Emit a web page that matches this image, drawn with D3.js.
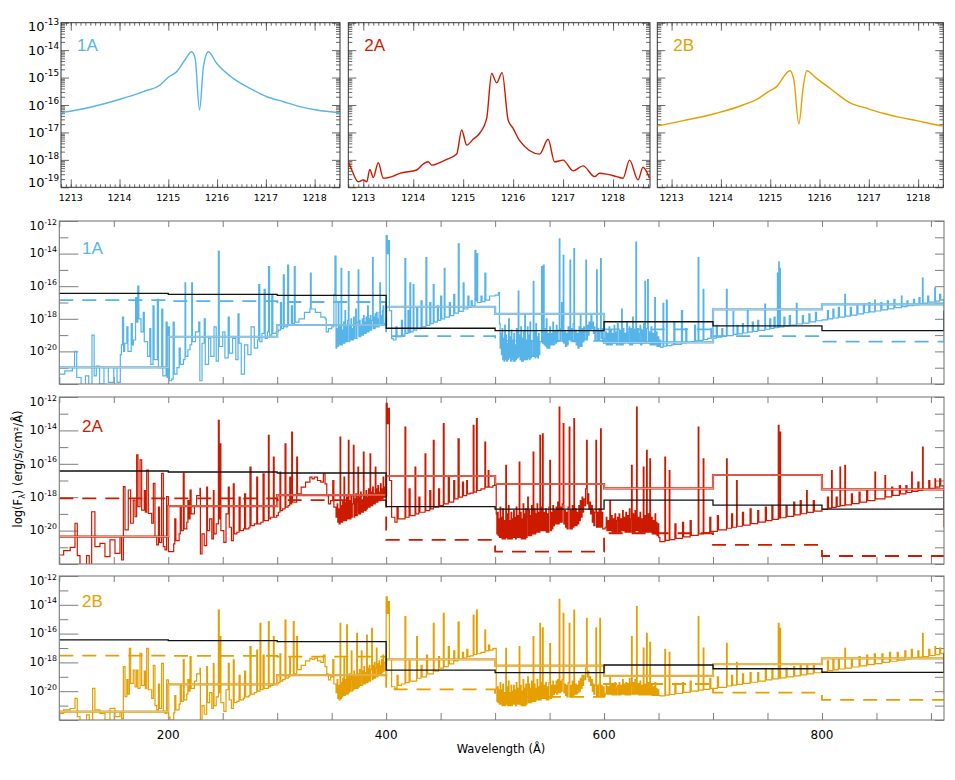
<!DOCTYPE html>
<html>
<head>
<meta charset="utf-8">
<script src="https://cdn.jsdelivr.net/npm/d3@7"></script>
<style>
  body { margin: 0; background: #fff; }
  svg { display: block; }
</style>
</head>
<body>
<svg id="chart" width="955" height="780"></svg>
<script>
// ---------- data (log10 of flux, wavelengths in Angstrom) ----------
const panelNames = ["1A", "2A", "2B"];
const panelColors = ["#56b4e9", "#cc1a00", "#e69f00"];
const lightColors = ["#b4c8d8", "#e89a8e", "#ddc08a"];

// Lyman-alpha zoom panels
const lya1A = [[1212.80,-16.28],[1213.40,-16.08],[1214.01,-15.79],[1214.49,-15.51],[1214.83,-15.27],[1215.00,-14.99],[1215.17,-14.79],[1215.34,-14.36],[1215.48,-14.06],[1215.55,-14.30],[1215.64,-16.18],[1215.72,-14.60],[1215.82,-14.06],[1215.99,-14.48],[1216.33,-15.03],[1216.67,-15.39],[1217.02,-15.70],[1217.36,-15.88],[1217.70,-16.06],[1218.04,-16.18],[1218.52,-16.28]];
const lya2A = [[1212.70,-18.07],[1212.77,-18.37],[1212.90,-18.80],[1213.00,-18.73],[1213.07,-18.80],[1213.13,-18.35],[1213.20,-18.64],[1213.30,-18.10],[1213.40,-18.67],[1213.60,-18.59],[1213.73,-18.49],[1214.07,-18.37],[1214.20,-18.15],[1214.30,-18.07],[1214.37,-18.19],[1214.53,-18.10],[1214.67,-17.98],[1214.87,-17.79],[1214.97,-16.91],[1215.07,-17.46],[1215.20,-17.25],[1215.33,-17.03],[1215.47,-16.49],[1215.57,-14.85],[1215.67,-15.19],[1215.78,-14.82],[1215.90,-16.55],[1216.00,-16.85],[1216.13,-17.30],[1216.53,-17.79],[1216.70,-17.25],[1216.83,-18.07],[1217.00,-18.01],[1217.20,-18.40],[1217.40,-18.22],[1217.63,-18.61],[1217.73,-18.49],[1217.87,-18.52],[1218.07,-18.61],[1218.20,-18.67],[1218.33,-18.01],[1218.50,-18.73],[1218.60,-18.27],[1218.73,-18.67]];
const lya2B = [[1212.71,-16.77],[1213.24,-16.57],[1213.91,-16.30],[1214.45,-16.00],[1214.79,-15.73],[1214.93,-15.55],[1215.13,-15.33],[1215.40,-14.75],[1215.48,-15.09],[1215.58,-16.69],[1215.67,-15.33],[1215.74,-14.75],[1215.94,-15.03],[1216.21,-15.39],[1216.62,-15.92],[1216.96,-16.12],[1217.29,-16.30],[1217.63,-16.45],[1217.97,-16.57],[1218.38,-16.73],[1218.51,-16.77]];
const lyaTicks = [1213, 1214, 1215, 1216, 1217, 1218];
const lyaExps = [-19, -18, -17, -16, -15, -14, -13];

// broad-band panels: bin edges and binned levels
const binEdges = [100, 200, 300, 400, 500, 600, 700, 800, 912];
const black1A = [-16.44, -16.50, -16.56, -18.58, -18.73, -18.18, -18.44, -18.73];
const dash1A  = [-16.85, -16.91, -16.97, -19.06, -19.36, -18.65, -19.06, -19.40];
const light1A = [-20.98, -19.10, -18.38, -17.26, -17.70, -19.45, -17.42, -17.11];
const black2A = [-16.43, -16.49, -16.55, -18.57, -18.71, -18.17, -18.47, -18.71];
const dash2A  = [-18.07, -18.07, -18.17, -20.56, -21.26, -20.16, -20.86, -21.52];
const light2A = [-20.36, -18.53, -17.87, -16.73, -17.21, -17.47, -16.67, -17.53];
const black2B = [-16.44, -16.49, -16.56, -18.53, -18.71, -18.18, -18.44, -18.69];
const dash2B  = [-17.53, -17.55, -17.60, -19.87, -20.40, -19.50, -20.10, -20.60];
const light2B = [-21.42, -19.52, -18.88, -17.79, -18.23, -18.94, -18.13, -17.72];
const blackEnd = [-17.50, -17.57, -17.37];
const wlTicks = [200, 400, 600, 800];
const fluxExps = [-20, -18, -16, -14, -12];

const spec1A = [[100,-21.4],[105,-21.2],[112,-21.0],[114,-20.0],[116,-21.6],[120,-22.3],[124,-21.5],[127,-22.5],[130,-19.0],[132,-21.5],[134,-20.9],[137,-22.0],[141,-21.0],[145,-21.9],[150,-21.0],[153,-21.9],[156,-20.2],[157,-19.6],[158,-17.9],[159,-20.0],[160,-19.5],[162,-18.5],[163,-20.0],[166,-18.3],[167,-19.6],[168,-19.3],[170,-16.7],[171,-18.2],[172,-16.0],[173,-18.0],[175,-18.8],[177,-17.6],[178,-19.4],[181,-20.3],[183,-18.6],[184,-20.8],[186,-17.2],[187,-20.5],[190,-16.8],[191,-21.0],[194,-17.4],[195,-21.5],[198,-18.2],[199,-21.6],[200,-18.5],
[201,-21.8],[203,-21.7],[204.5,-18.2],[205.5,-21.4],[208,-21.0],[210,-19.8],[211,-20.8],[214,-20.5],[215.4,-15.8],[216,-20.3],[218,-19.9],[220,-19.6],[221.5,-15.8],[222.2,-19.4],[225,-18.8],[228,-18.2],[229,-21.8],[231,-19.5],[233,-18.0],[234,-20.8],[237,-19.2],[239,-20.3],[242,-18.5],[244,-20.6],[246,-13.85],[246.8,-19.7],[250,-18.8],[252,-20.4],[255,-17.9],[256,-20.1],[259,-19.2],[262,-20.5],[264,-17.7],[265,-19.5],[267,-21.4],[270,-19.6],[273,-20.2],[276,-18.5],[279,-19.8],[282,-19.3],[283,-15.9],[284,-19.4],[286,-18.9],[288,-16.2],[289,-19.2],[291,-18.8],[292,-14.8],[293,-19.0],[295,-16.5],[296,-18.9],[299,-18.8],
[301,-18.7],[303,-17.0],[304,-18.6],[305.6,-15.3],[306.5,-18.5],[309.6,-14.7],[310.5,-18.4],[313,-17.2],[314,-18.3],[315.7,-14.8],[316.5,-18.2],[320,-18.0],[325,-17.6],[330,-17.4],[330.5,-15.2],[331.2,-17.4],[335,-17.6],[340,-17.9],[344,-18.0],[345,-18.8],[347,-18.6],[350,-18.5],[352,-16.5],[353,-14.15],
[354,-19.8],[354.7,-18.6],[355.4,-19.7],[356,-17.0],[356.6,-19.6],[357.2,-18.4],[357.8,-19.6],[358.6,-14.9],[359.2,-19.6],[359.8,-18.7],[360.4,-19.5],[361,-18.2],[361.6,-19.5],[362.2,-17.5],[362.8,-19.4],[363.4,-18.5],[364,-19.4],[364.6,-18.1],[365.3,-15.1],[365.9,-19.4],[366.5,-18.4],[367.1,-19.3],[367.7,-18.0],[368.3,-19.3],[368.9,-18.6],[369.5,-19.3],[370.1,-17.9],[370.7,-19.2],[371.3,-18.3],[372,-17.4],[372.6,-19.2],[373.2,-18.2],[374.3,-15.0],[374.9,-19.1],[375.5,-18.1],[376.1,-19.1],[376.7,-18.4],[377.3,-19.0],[378,-18.0],[378.6,-19.0],[379.2,-17.8],[379.8,-18.9],[380.4,-18.2],[381,-18.9],[381.6,-17.9],[382.2,-18.8],[383,-17.2],[383.6,-18.8],[384.2,-18.0],[384.8,-18.7],[385.4,-17.8],[386,-18.7],[386.6,-18.1],[387.5,-14.25],[388.1,-18.6],[388.7,-17.9],[389.3,-18.6],[389.9,-17.7],[390.5,-18.5],[391.1,-17.6],[391.7,-18.5],[392.3,-18.0],[392.9,-18.5],[393.5,-17.6],[394.2,-15.8],[394.8,-18.4],[395.4,-17.8],[396,-18.4],[396.6,-17.5],[397.2,-17.2],[397.8,-18.3],[398.5,-18.3],
[400,-12.9],[401,-14.0],[402,-13.2],[403,-17.5],[405,-19.2],[406.5,-19.3],[409,-18.5],[410,-19.1],[412,-19.1],[414,-18.1],[415,-19.0],[417.2,-14.3],[418,-18.9],[420,-17.5],[421,-18.85],[421.8,-15.8],[422.5,-18.8],[424.8,-15.9],[425.5,-18.7],[428,-17.3],[429,-18.6],[432,-16.9],[433,-18.5],[436.5,-14.25],[437.3,-18.4],[440,-17.0],[441,-18.3],[443.2,-15.9],[444,-18.2],[447,-17.2],[448,-18.1],[450,-16.6],[451,-18.0],[453.3,-14.9],[454,-17.9],[458,-17.0],[459,-17.8],[462,-16.5],[463,-17.65],[466.2,-13.4],[467,-17.55],[470.7,-15.8],[471.5,-17.4],[475,-16.6],[476,-17.3],[478,-16.9],[479,-17.2],[481.5,-13.8],[482.3,-16.9],[483,-14.0],[484,-17.0],[487,-16.6],[488,-16.95],[490.6,-15.2],[491.5,-16.85],[495,-16.6],[500,-16.55],[503,-16.4],
[504,-18.3],[504.6,-19.8],[505.2,-18.9],[505.8,-20.2],[506.4,-18.6],[507,-20.5],[507.6,-19.2],[508.2,-20.6],[508.8,-18.4],[509.4,-20.5],[510,-19.0],[510.6,-20.6],[511.2,-19.5],[511.8,-20.5],[512.4,-18.0],[513,-20.4],[513.6,-19.1],[514.2,-20.6],[514.8,-18.7],[515.4,-20.5],[516,-19.3],[516.6,-20.6],[517.2,-18.9],[517.8,-20.6],[518.4,-19.6],[519,-20.5],[519.6,-18.6],[520.2,-20.4],[521.2,-16.3],[521.8,-20.3],[522.4,-19.0],[523,-20.5],[523.6,-18.5],[524.2,-20.6],[524.8,-19.2],[525.4,-20.6],[526,-18.8],[526.6,-20.5],[527.2,-17.8],[527.8,-20.5],[528.4,-19.3],[529,-20.5],[529.6,-18.5],[530.2,-20.4],[530.8,-19.0],[531.4,-20.5],[532,-18.2],[532.6,-20.4],[533.2,-19.4],[533.8,-20.3],[535,-15.7],[535.6,-20.3],[536.2,-18.8],[536.8,-20.4],[537.4,-18.3],[538,-20.3],[538.6,-19.1],[539.2,-20.4],[539.8,-18.9],[540.4,-20.2],[541,-19.4],[542.6,-14.8],[543.3,-19.5],[544.2,-14.7],
[545,-19.6],[546,-18.6],[546.6,-19.7],[547,-18.0],[547.6,-19.8],[548.6,-18.9],[549.2,-19.8],[550.2,-18.5],[550.8,-19.6],[551.8,-18.9],[552.4,-19.6],[553,-18.2],[553.6,-19.6],[554.6,-18.8],[555.2,-19.5],[556.2,-18.4],[556.8,-19.4],[557.8,-18.7],[558.9,-13.1],[559.5,-19.3],[560.3,-18.6],[561,-17.0],[561.6,-19.4],[562.5,-14.1],[563.1,-19.5],[564,-18.8],[564.6,-19.7],[565.6,-18.9],[566.2,-19.6],[567,-18.5],[567.6,-19.3],[568.7,-14.4],[569.3,-19.3],[570.2,-18.6],[570.8,-19.4],[571.6,-18.3],[572.3,-13.7],[572.9,-19.4],[573.8,-18.7],[574.4,-19.6],[575.4,-18.9],[576,-19.8],[577,-18.5],[577.6,-19.7],[578.2,-17.8],[578.8,-19.7],[579.8,-18.6],[580.4,-19.4],[581.4,-18.5],[582,-19.3],[583.3,-14.4],[583.9,-19.3],[584.8,-18.4],[585.4,-19.0],[586.2,-18.2],[587,-18.7],[588,-17.7],[588.8,-18.6],[589.6,-18.2],[590.2,-18.9],[591,-18.5],[591.6,-19.3],[592.4,-18.7],[593.1,-15.0],[593.7,-19.3],[594.6,-18.6],[595.2,-19.3],[596,-18.8],[596.8,-14.3],[597.4,-19.2],[598.2,-18.6],[598.8,-19.4],[599.5,-19.5],
[600.5,-19.5],[601.5,-18.8],[602.1,-19.6],[603,-18.9],[603.6,-19.6],[604.6,-18.5],[605.2,-19.6],[606,-18.7],[606.6,-19.6],[607.6,-18.9],[608.2,-19.5],[609.2,-18.4],[609.8,-19.5],[610.8,-18.8],[611.4,-19.6],[612.2,-18.3],[613,-18.6],[613.6,-19.6],[614.6,-18.7],[615.2,-19.6],[616.1,-17.4],[616.7,-19.6],[617.6,-18.6],[618.2,-19.5],[619.2,-18.9],[619.8,-19.4],[620.8,-18.2],[621.4,-19.5],[622.4,-18.8],[623,-18.5],[623.6,-19.6],[624.6,-18.6],[625.2,-19.6],[626.2,-17.9],[626.8,-19.5],[627.8,-18.7],[628.4,-19.5],[629.2,-13.3],[629.8,-19.5],[630.8,-18.6],[631.4,-19.5],[632.4,-18.9],[633,-18.4],[633.6,-19.6],[634.6,-18.7],[635.2,-19.5],[636.2,-18.3],[636.8,-19.5],[637.5,-15.7],[638.1,-19.5],[639,-18.6],[640,-15.6],[640.6,-19.5],[641.6,-18.8],[642.2,-19.6],[643.2,-18.5],[643.8,-19.6],[644.8,-18.9],[645.4,-19.6],[646.5,-16.7],[647.1,-19.6],[648,-18.8],[648.6,-19.7],[649.6,-19.1],[650.2,-19.7],[651,-19.3],[652,-19.75],
[654.1,-17.05],[654.8,-19.68],[657.2,-16.85],[658,-19.64],[662,-19.6],[664,-18.2],[665,-19.57],[671,-17.5],[672,-19.48],[675,-18.6],[676,-19.44],[680,-19.4],[683,-18.4],[684,-19.35],[686.3,-14.25],[687,-19.32],[690.9,-16.2],[691.6,-19.27],[695,-19.2],[698,-18.6],[699,-19.18],
[703,-18.4],[704,-19.13],[708,-18.6],[709,-19.08],[712.3,-16.2],[713,-19.03],[718.4,-17.55],[719,-18.96],[722,-18.4],[723,-18.92],[727,-18.3],[728,-18.87],[731.5,-17.4],[732.2,-18.82],[736,-18.2],[737,-18.77],[741,-18.1],[742,-18.71],[747.5,-17.1],[748.2,-18.64],[752,-18.0],[753,-18.59],[756,-17.9],[757,-18.55],[759.1,-15.2],[759.7,-18.52],[760.3,-14.5],[760.8,-18.51],[761.2,-14.9],[761.8,-18.5],[765,-17.9],[766,-18.44],[770,-17.8],[771,-18.39],[776.5,-17.05],[777.2,-18.32],[782,-17.8],[783,-18.26],[788,-17.7],[789,-18.19],[794,-17.6],[795,-18.12],[800,-18.07],
[805,-17.5],[806,-18.0],[810,-17.4],[811,-17.95],[815,-17.3],[816,-17.9],[820.9,-16.5],[821.6,-17.83],[826,-17.3],[827,-17.77],[832,-17.2],[833,-17.7],[838,-17.1],[839,-17.63],[843,-17.0],[844,-17.58],[848.4,-16.85],[849,-17.52],[854,-17.0],[855,-17.45],[860,-16.9],[861,-17.39],[866,-16.8],[867,-17.32],[872.9,-16.6],[873.5,-17.25],[878,-16.9],[879,-17.2],[884,-16.8],[885,-17.14],[889,-16.7],[890,-17.08],[892.2,-15.5],[892.8,-17.04],[897,-16.6],[898,-16.98],[903.5,-16.1],[904.2,-16.91],[908,-16.5],[909,-16.86],[911,-16.8],[912,-19.3]];

const spec2A = [[100.6,-21.46],[104,-21.2],[110,-21.0],[114.4,-19.56],[116.5,-21.5],[119,-22.2],[125,-21.5],[127.5,-22.3],[129.7,-18.87],[132.7,-20.96],[137.3,-20.76],[141.9,-21.56],[146.5,-20.56],[151.1,-21.36],[155.7,-20.36],[157.2,-21.76],[158.8,-17.37],[160.3,-19.96],[163.3,-17.57],[165.5,-19.56],[167.9,-18.17],[169.5,-19.17],[171,-15.47],[172.2,-18.57],[174.1,-15.77],[175.6,-18.77],[178,-17.6],[179,-18.9],[180.2,-16.37],[181.7,-18.97],[184.8,-19.56],[186.3,-17.17],[187.8,-20.36],[189.4,-20.86],[191,-18.6],[192,-20.7],[193.9,-16.57],[195.5,-20.96],[197,-21.16],[198.5,-17.97],[200.1,-21.26],
[201.6,-21.26],[205,-20.8],[206,-19.3],[207,-20.6],[210,-20.2],[211,-18.5],[212,-20.0],[213.8,-16.57],[214.6,-19.9],[217,-19.5],[218,-18.2],[219,-19.3],[220,-17.57],[221,-19.0],[224,-18.5],[226,-17.9],[229.1,-17.47],[229.5,-21.4],[231,-20.2],[233,-20.9],[235.3,-17.4],[236,-20.0],[238,-19.3],[240,-20.5],[241.4,-17.6],[242,-20.2],[244,-19.6],[246,-13.4],[246.8,-19.3],[247.5,-14.8],[248.3,-20.0],[251,-20.7],[253,-19.0],[255.1,-17.4],[256,-19.8],[258,-20.6],[259.7,-17.2],[260.5,-20.2],[263,-20.1],[265,-18.0],[266,-20.0],[269,-19.9],[270,-17.8],[271,-19.9],[274,-19.8],[275,-16.2],[276,-19.7],[279,-19.6],[281.2,-16.8],[282,-19.6],[285,-19.5],[287,-16.6],[288,-19.4],[291.9,-14.3],[292.6,-19.3],[294,-19.2],[296.5,-15.6],[297.2,-19.2],[299.5,-19.1],
[301,-18.9],[302.5,-16.5],[303.3,-18.8],[305,-18.7],[307.2,-14.8],[308,-18.6],[310,-18.5],[311.5,-16.8],[312.2,-18.4],[313.3,-14.1],[314,-18.3],[317.9,-15.6],[318.6,-17.8],[322,-17.4],[326,-17.1],[330,-16.8],[332,-16.9],[334,-16.8],[337,-17.0],[340,-17.1],[342.4,-16.6],[343.9,-17.2],[345.5,-17.9],[347,-18.4],[349,-18.2],[351,-17.0],[352,-18.6],
[354,-19.2],[355,-18.4],[355.6,-19.5],[356.2,-18.7],[356.8,-19.6],[357.7,-14.4],[358.3,-19.5],[358.9,-18.5],[359.5,-19.5],[360.1,-18.2],[360.7,-19.4],[361.3,-16.8],[361.9,-19.4],[362.5,-18.3],[363.1,-19.4],[363.7,-18.0],[364.3,-19.3],[365.3,-14.6],[365.9,-19.3],[366.5,-18.2],[367.1,-19.3],[367.7,-17.9],[368.3,-19.2],[368.9,-18.4],[369.9,-14.9],[370.5,-19.2],[371.1,-18.1],[371.7,-19.1],[372.3,-17.8],[372.9,-19.1],[373.5,-18.3],[374.1,-16.2],[374.7,-19.0],[375.3,-18.0],[375.9,-19.0],[376.5,-17.7],[377.1,-18.9],[377.7,-18.2],[378.3,-18.9],[379.1,-15.3],[379.7,-18.8],[380.3,-17.9],[380.9,-18.8],[381.5,-17.6],[382.1,-18.7],[382.7,-18.0],[383.3,-18.6],[383.9,-17.5],[384.5,-18.6],[385.2,-15.4],[385.8,-18.5],[386.4,-17.7],[387,-18.5],[387.6,-17.4],[388.2,-18.4],[388.8,-17.8],[389.4,-18.4],[390,-16.2],[390.6,-18.3],[391.2,-17.5],[391.8,-18.3],[392.4,-17.3],[393,-18.2],[393.6,-17.7],[394.2,-18.2],[394.8,-17.2],[395.4,-18.1],[396,-17.5],[396.6,-18.1],[397.2,-16.8],[397.8,-18.0],[398.4,-17.4],[399.5,-18.0],
[400,-12.38],[401,-13.6],[402,-12.68],[403,-17.0],[405,-19.2],[408,-19.5],[410,-18.6],[411,-19.3],[414,-19.3],[417.3,-13.8],[418,-19.2],[421,-17.5],[422,-19.1],[426.5,-16.2],[427.2,-19.0],[430,-18.0],[431,-18.9],[435.7,-15.4],[436.4,-18.8],[440,-17.6],[441,-18.7],[443.3,-14.6],[444,-18.6],[448,-17.5],[449,-18.5],[452.5,-13.6],[453.2,-18.4],[457,-16.8],[458,-18.3],[462,-17.0],[463,-18.1],[466,-14.5],[467,-18.0],[470,-17.1],[471,-17.9],[473.9,-17.0],[474.6,-17.8],[477,-17.75],[479.9,-13.7],[480.6,-17.7],[482.9,-13.3],[483.6,-17.6],[487,-17.5],[490.6,-14.7],[491.3,-17.4],[493.6,-16.4],[494.3,-17.4],[498,-17.3],[500,-17.25],
[501,-19.0],[501.6,-20.2],[502.2,-18.9],[502.8,-20.3],[503.4,-19.3],[504,-20.4],[504.6,-18.6],[505.2,-20.4],[505.8,-19.2],[506.4,-20.5],[507,-18.7],[507.6,-20.5],[508.2,-19.4],[508.8,-20.5],[509.8,-16.1],[510.4,-20.4],[511,-19.0],[511.6,-20.5],[512.2,-18.5],[512.8,-20.5],[513.4,-19.4],[514,-20.5],[514.6,-18.9],[515.2,-20.5],[515.8,-19.3],[516.4,-20.4],[517,-18.8],[517.6,-20.4],[518.2,-19.2],[518.8,-20.5],[519.4,-18.6],[520,-20.4],[520.6,-19.1],[521.2,-20.4],[522.1,-15.9],[522.7,-20.4],[523.3,-18.9],[523.9,-20.5],[524.5,-19.3],[525.1,-20.5],[525.7,-18.4],[526.3,-20.5],[526.9,-19.0],[527.5,-20.5],[528.1,-18.7],[528.7,-20.4],[529.3,-19.2],[529.9,-18.0],[530.5,-20.3],[531.1,-18.8],[531.7,-20.3],[532.3,-19.1],[532.9,-20.3],[533.5,-18.5],[534.1,-20.2],[534.9,-15.3],[535.5,-20.2],[536.1,-18.7],[536.7,-20.2],[537.3,-19.0],[537.9,-20.1],[538.5,-18.4],[539.1,-20.1],[539.7,-18.9],[540.3,-20.1],[541.1,-14.3],[541.7,-20.0],[542.3,-18.6],[542.9,-20.0],[543.5,-14.2],[544.1,-20.0],
[545,-18.9],[545.6,-20.0],[546.4,-18.7],[547,-20.1],[548,-19.0],[548.6,-20.1],[549.4,-18.6],[550.2,-15.8],[550.8,-20.0],[551.6,-18.9],[552.2,-19.9],[553,-18.5],[553.6,-19.7],[554.4,-18.8],[555,-19.6],[556,-18.6],[556.6,-19.6],[557.4,-18.3],[558,-19.6],[558.8,-12.6],[559.4,-19.5],[560.2,-18.6],[560.8,-19.5],[561.6,-18.4],[562.5,-13.6],[563.1,-19.6],[564,-18.8],[564.6,-19.8],[565.4,-18.9],[566,-19.9],[567,-18.6],[568,-13.8],[568.6,-19.9],[569.4,-18.8],[570,-19.9],[570.8,-18.5],[571.4,-19.8],[572.3,-13.3],[572.9,-19.7],[573.8,-18.7],[574.4,-19.7],[575.2,-18.9],[575.8,-19.6],[576.8,-18.5],[577.4,-19.4],[578.2,-18.2],[578.8,-19.2],[579.8,-18.0],[580.4,-18.9],[581.2,-18.1],[581.8,-18.5],[583,-17.5],[583.9,-14.6],[584.5,-18.4],[585.4,-17.8],[586,-18.7],[587,-18.3],[587.6,-19.0],[588.6,-18.5],[589.2,-19.5],[590,-18.8],[590.6,-19.7],[591.6,-18.9],[592.5,-14.6],[593.1,-19.8],[594,-18.9],[594.6,-19.8],[595.4,-18.7],[596.2,-19.8],[596.8,-13.9],[597.4,-19.8],[598.2,-18.9],[598.8,-19.9],[600,-19.9],
[601,-19.8],[602,-19.2],[602.6,-20.0],[603.6,-19.4],[604.2,-20.0],[605.3,-18.2],[605.9,-20.0],[606.8,-19.1],[607.4,-20.1],[608.4,-19.3],[609,-20.1],[610,-19.0],[610.6,-20.1],[611.6,-19.4],[612.2,-19.2],[612.8,-20.1],[613.8,-19.0],[614.4,-20.1],[615.4,-19.3],[616,-20.0],[617,-18.8],[617.6,-20.0],[618.6,-19.2],[619.2,-20.1],[620,-18.9],[620.6,-20.1],[621.6,-19.1],[622.2,-20.1],[623.2,-18.7],[623.8,-20.1],[624.6,-19.3],[625.2,-16.1],[625.8,-20.1],[626.8,-19.0],[627.4,-20.1],[628.4,-18.8],[629,-20.0],[629.8,-12.6],[630.4,-20.0],[631.4,-19.2],[632,-20.1],[633,-18.9],[633.6,-20.1],[634.6,-19.3],[635.2,-20.1],[636,-16.2],[636.6,-20.1],[637.6,-19.1],[638.2,-20.1],[639,-15.2],[639.6,-20.1],[640.6,-19.0],[641.2,-20.1],[642,-15.7],[642.6,-20.1],[643.6,-19.2],[644.2,-20.2],[645.2,-19.4],[645.8,-20.2],[646.8,-19.0],[647.4,-20.2],[648,-19.5],[648.6,-20.3],[649.6,-19.6],[650.2,-20.4],[651.2,-20.66],
[655.8,-15.6],[656.4,-20.59],[659.8,-16.4],[660.4,-20.54],[665,-19.6],[666,-20.47],[672,-19.5],[673,-20.38],[679,-19.4],[680,-20.29],[686.4,-13.8],[687,-20.2],[691,-15.7],[691.6,-20.14],[697,-19.2],[698,-20.05],[704,-19.1],[705,-19.96],[712.4,-15.7],[713,-19.86],[717,-19.0],[718,-19.8],[721.6,-17.0],[722.2,-19.74],[727,-18.9],[728,-19.67],[734,-18.7],[735,-19.58],[741,-18.8],[742,-19.49],[748,-18.6],[749,-19.4],[754,-18.5],[755,-19.33],[759.9,-13.7],[760.6,-19.26],[761.4,-14.1],[762,-19.23],[767,-18.5],[768,-19.15],[774,-18.3],[775,-19.06],[780,-18.2],[781,-18.99],[785.9,-17.6],[786.5,-18.91],[792,-18.2],[793,-18.83],[800,-18.73],[805,-18.0],[806,-18.66],[808.8,-16.4],[809.4,-18.61],[813,-18.0],[814,-18.55],[816.5,-16.2],[817.1,-18.51],[821,-16.1],[821.6,-18.46],[827,-17.8],[828,-18.38],[834,-17.7],[835,-18.29],[841,-17.6],[842,-18.2],[848.6,-16.5],[849.2,-18.1],[857.8,-16.7],[858.4,-17.98],[864,-17.4],[865,-17.89],[871,-17.3],[872,-17.8],[877,-17.3],[878,-17.72],[882.3,-16.5],[882.9,-17.66],[888,-17.1],[889,-17.59],[892.3,-15.0],[892.9,-17.54],[898,-17.0],[899,-17.47],[903.7,-16.9],[904.3,-17.4],[908,-16.9],[909,-17.33],[911,-17.3],[912,-19.8]];

const spec2B = [[100.6,-21.54],[104,-21.3],[110,-21.2],[114.4,-20.5],[116.5,-21.77],[119,-22.2],[125,-21.65],[127.5,-22.1],[130.6,-19.8],[132.7,-21.3],[137.3,-21.54],[141.9,-22.0],[146.5,-21.19],[151.1,-21.77],[155.7,-21.42],[157.2,-21.9],[158.8,-18.3],[160.3,-20.38],[162,-19.2],[163,-20.2],[164.3,-17.02],[165.5,-19.45],[167.9,-18.53],[169.5,-19.7],[171,-18.53],[172.2,-19.8],[174.1,-17.37],[175.6,-19.6],[178,-18.6],[179,-19.8],[180.2,-17.02],[181.7,-19.9],[184.8,-20.5],[186.3,-18.2],[187.8,-21.0],[189.4,-21.3],[191,-19.5],[192,-21.2],[193.9,-18.07],[195.5,-21.4],[197,-21.54],[198.5,-19.22],[200.1,-21.8],
[201.6,-22.0],[205,-21.5],[206,-20.3],[207,-21.3],[210,-20.9],[211,-19.6],[212,-20.7],[213.8,-17.8],[214.6,-20.6],[217,-20.2],[218,-19.2],[219,-20.0],[220,-17.6],[221,-19.8],[224,-19.3],[226,-18.8],[229.1,-18.41],[229.5,-22.0],[231,-21.0],[233,-21.6],[235.3,-18.3],[236,-20.8],[238,-20.1],[240,-21.2],[241.4,-18.07],[242,-21.0],[244,-20.4],[246,-14.36],[246.8,-20.1],[247.5,-16.2],[248.3,-20.8],[251,-21.4],[253,-19.9],[255.1,-18.07],[256,-20.6],[258,-21.2],[259.7,-17.83],[260.5,-20.8],[263,-20.7],[265,-18.9],[266,-20.6],[269,-20.5],[270,-18.6],[271,-20.4],[274,-20.3],[275,-16.9],[276,-20.2],[279,-20.1],[281.2,-17.14],[282,-20.0],[284.2,-15.29],[285,-19.9],[287,-17.5],[288,-19.8],[291.9,-15.17],[292.6,-19.7],[294,-19.6],[296.5,-16.21],[297.2,-19.5],[299.5,-19.45],
[301,-19.4],[302.5,-17.4],[303.3,-19.3],[305,-19.2],[307.2,-15.06],[308,-19.1],[310,-19.0],[311.5,-17.6],[312.2,-18.9],[314.8,-15.17],[315.5,-18.8],[317.9,-16.2],[318.6,-18.5],[322,-18.2],[326,-17.9],[330,-17.72],[332,-17.8],[334,-17.7],[337,-17.9],[340,-18.0],[342.4,-17.5],[343.9,-18.3],[345.5,-18.8],[347,-19.22],[349,-19.0],[351,-17.8],[352,-19.5],
[354,-20.1],[355,-19.2],[355.6,-20.5],[356.2,-19.6],[356.8,-20.6],[357.7,-15.29],[358.3,-20.5],[358.9,-19.4],[359.5,-20.4],[360.1,-19.1],[360.7,-20.3],[361.3,-17.7],[361.9,-20.3],[362.5,-19.2],[363.1,-20.2],[363.8,-15.4],[364.4,-20.2],[365,-19.0],[365.6,-20.1],[366.2,-18.8],[366.8,-20.0],[367.4,-19.2],[368,-17.2],[368.6,-20.0],[369.2,-18.9],[369.8,-19.9],[370.4,-18.6],[371,-19.8],[371.6,-19.0],[372.2,-19.8],[373,-15.98],[373.6,-19.8],[374.2,-18.8],[374.8,-19.7],[375.4,-18.5],[376,-19.6],[376.6,-18.9],[377.2,-17.2],[377.8,-19.6],[378.4,-18.6],[379,-19.5],[379.6,-18.3],[380.2,-19.5],[380.8,-18.7],[381.4,-19.4],[382.1,-16.1],[382.7,-19.4],[383.3,-18.4],[383.9,-19.3],[384.5,-18.2],[385.1,-19.3],[385.7,-18.5],[386.7,-15.63],[387.3,-19.2],[387.9,-18.2],[388.5,-19.1],[389.1,-18.0],[389.7,-19.1],[390.3,-18.4],[391,-17.0],[391.6,-19.0],[392.2,-18.1],[392.8,-18.9],[393.4,-17.9],[394,-18.8],[394.6,-18.2],[395.2,-18.8],[395.8,-17.8],[396.4,-18.7],[397,-17.5],[397.6,-18.6],[398.2,-18.0],[399.5,-18.53],
[400,-13.44],[401,-14.6],[402,-13.78],[403,-17.8],[405,-19.69],[408,-19.8],[410,-18.9],[411,-19.6],[414,-19.5],[417.3,-14.82],[418,-19.4],[421,-17.9],[422,-19.3],[428,-16.21],[428.7,-19.1],[432,-18.2],[433,-19.0],[437,-17.5],[438,-18.8],[443.3,-15.29],[444,-18.6],[448,-17.6],[449,-18.4],[452.5,-14.59],[453.2,-18.3],[457,-16.9],[458,-18.1],[462,-17.2],[463,-17.9],[466,-15.2],[467,-17.8],[470,-17.3],[471,-17.7],[474,-17.1],[475,-17.6],[477,-17.55],[479.9,-14.71],[480.6,-17.45],[482.9,-14.36],[483.6,-17.4],[487,-17.3],[490.6,-15.75],[491.3,-17.2],[494,-16.8],[495,-17.15],[498,-17.05],[500,-17.02],
[501,-19.8],[501.6,-20.7],[502.2,-19.7],[502.8,-20.8],[503.4,-19.9],[504,-20.9],[504.6,-19.4],[505.2,-20.9],[505.8,-19.9],[506.4,-21.0],[507,-19.5],[507.6,-21.0],[508.2,-20.1],[508.8,-21.0],[509.8,-17.02],[510.4,-20.9],[511,-19.7],[511.6,-21.0],[512.2,-19.3],[512.8,-21.0],[513.4,-20.1],[514,-21.0],[514.6,-19.6],[515.2,-21.0],[515.8,-20.0],[516.4,-20.9],[517,-19.6],[517.6,-20.9],[518.2,-19.9],[518.8,-21.0],[519.4,-19.4],[520,-20.9],[520.6,-19.8],[521.2,-20.9],[522.1,-16.9],[522.7,-20.9],[523.3,-19.6],[523.9,-21.0],[524.5,-20.0],[525.1,-21.0],[525.7,-19.2],[526.3,-21.0],[526.9,-19.8],[527.5,-21.0],[528.1,-19.5],[528.7,-20.9],[529.3,-19.9],[529.9,-19.0],[530.5,-20.8],[531.1,-19.5],[531.7,-20.8],[532.3,-19.8],[532.9,-20.8],[533.5,-19.3],[534.1,-20.7],[534.9,-16.21],[535.5,-20.7],[536.1,-19.5],[536.7,-20.7],[537.3,-19.8],[537.9,-20.6],[538.5,-19.2],[539.1,-20.6],[539.7,-19.7],[540.3,-20.6],[541.1,-15.29],[541.7,-20.6],[542.3,-19.4],[542.9,-20.5],[543.5,-15.6],[544.1,-20.5],
[545,-19.6],[545.6,-20.5],[546.4,-19.4],[547,-20.6],[548,-19.7],[548.6,-20.6],[549.4,-19.4],[550.2,-16.7],[550.8,-20.5],[551.6,-19.6],[552.2,-20.4],[553,-19.3],[553.6,-20.2],[554.4,-19.6],[555,-20.1],[556,-19.3],[556.6,-20.2],[557.4,-19.2],[558,-20.1],[558.8,-13.62],[559.4,-20.1],[560.2,-19.3],[560.8,-20.0],[561.6,-19.2],[562.5,-14.59],[563.1,-20.1],[564,-19.5],[564.6,-20.3],[565.4,-19.6],[566,-20.4],[567,-19.4],[568,-15.29],[568.6,-20.4],[569.4,-19.6],[570,-20.4],[570.8,-19.3],[571.4,-20.3],[572.3,-14.36],[572.9,-20.2],[573.8,-19.5],[574.4,-20.2],[575.2,-19.6],[575.8,-20.1],[576.8,-19.3],[577.4,-20.0],[578.2,-19.1],[578.8,-19.8],[579.8,-18.9],[580.4,-19.6],[581.2,-18.9],[581.8,-19.2],[583,-18.4],[583.9,-14.94],[584.5,-19.0],[585.4,-18.6],[586,-19.3],[587,-19.0],[587.6,-19.6],[588.6,-19.2],[589.2,-20.0],[590,-19.5],[590.6,-20.2],[591.6,-19.6],[592.5,-15.6],[593.1,-20.3],[594,-19.6],[594.6,-20.3],[595.4,-19.5],[596.1,-14.94],[596.7,-20.3],[597.6,-19.6],[598.2,-20.3],[599,-19.7],[600,-20.35],
[601,-20.15],[602,-19.6],[602.6,-20.2],[603.6,-19.7],[604.2,-20.2],[605.3,-19.0],[605.9,-20.2],[606.8,-19.5],[607.4,-20.25],[608.4,-19.6],[609,-20.25],[610,-19.4],[610.6,-20.25],[611.6,-19.7],[612.2,-19.6],[612.8,-20.25],[613.8,-19.4],[614.4,-20.25],[615.4,-19.6],[616,-20.2],[617,-19.2],[617.6,-20.2],[618.6,-19.5],[619.2,-20.25],[620,-19.4],[620.6,-20.25],[621.6,-19.5],[622.2,-20.25],[623.2,-19.1],[623.8,-20.25],[624.6,-19.6],[625.2,-16.21],[625.8,-20.2],[626.8,-19.4],[627.4,-20.2],[628.4,-19.2],[629,-20.2],[629.8,-14.13],[630.4,-20.2],[631.4,-19.5],[632,-20.25],[633,-19.3],[633.6,-20.25],[634.6,-19.6],[635.2,-20.25],[636,-17.0],[636.6,-20.25],[637.6,-19.5],[638.2,-20.25],[639,-15.98],[639.6,-20.25],[640.6,-19.4],[641.2,-20.25],[642,-16.6],[642.6,-20.25],[643.6,-19.6],[644.2,-20.3],[645.2,-19.7],[645.8,-20.3],[646.8,-19.4],[647.4,-20.3],[648,-19.8],[648.6,-20.3],[649.6,-19.9],[650.2,-20.3],[651.2,-20.33],
[655.8,-17.1],[656.4,-20.27],[659.8,-17.3],[660.4,-20.23],[665,-19.5],[666,-20.16],[672,-19.4],[673,-20.08],[679,-19.3],[680,-20.0],[686.4,-14.82],[687,-19.92],[691,-17.0],[691.6,-19.87],[697,-19.1],[698,-19.8],[704,-19.0],[705,-19.73],[712.4,-16.68],[713,-19.64],[717,-18.9],[718,-19.58],[721.6,-18.0],[722.2,-19.52],[727,-18.8],[728,-19.46],[734,-18.7],[735,-19.38],[741,-18.7],[742,-19.3],[748,-18.5],[749,-19.22],[754,-18.5],[755,-19.15],[759.9,-15.29],[760.6,-19.1],[761.4,-15.63],[762,-19.08],[767,-18.4],[768,-19.0],[774,-18.3],[775,-18.93],[780,-18.2],[781,-18.86],[786,-18.2],[787,-18.79],[792,-18.1],[793,-18.72],[800,-18.64],[805,-17.9],[806,-18.57],[810,-17.8],[811,-18.52],[815,-17.8],[816,-18.46],[821,-17.02],[821.6,-18.4],[827,-17.7],[828,-18.32],[834,-17.6],[835,-18.24],[841,-17.5],[842,-18.16],[848,-17.4],[849,-18.08],[855,-17.4],[856,-18.0],[862,-17.3],[863,-17.92],[869,-17.3],[870,-17.84],[876,-17.2],[877,-17.76],[882,-17.1],[883,-17.7],[888,-17.2],[889,-17.63],[892.3,-15.98],[892.9,-17.59],[898,-17.1],[899,-17.52],[903.7,-16.91],[904.3,-17.46],[908,-17.0],[909,-17.4],[911,-17.37],[912,-20.2]];

// ---------- drawing ----------
const svg = d3.select("#chart");
const numFont = "DejaVu Sans, sans-serif";
const nameFont = "Liberation Sans, Arial, sans-serif";

// "10" with a raised exponent, right aligned at x
function powerLabel(g, x, y, exp, size) {
  const t = g.append("text")
    .attr("x", x).attr("y", y)
    .attr("text-anchor", "end")
    .attr("font-family", numFont)
    .attr("font-size", size)
    .attr("fill", "#000");
  t.append("tspan").text("10");
  t.append("tspan").attr("dy", -size * 0.45).attr("font-size", size * 0.68).text(exp);
}

// ---- Lyman alpha panels on top
const lyaPanels = [
  { data: lya1A, left: 61, right: 340, dom: [1212.8, 1218.52] },
  { data: lya2A, left: 348.3, right: 650, dom: [1212.7, 1218.74] },
  { data: lya2B, left: 657.3, right: 943.3, dom: [1212.71, 1218.51] }
];
const lyaTop = 22.7, lyaBottom = 187.3;

lyaPanels.forEach((p, i) => {
  const x = d3.scaleLinear().domain(p.dom).range([p.left, p.right]);
  const y = d3.scaleLog().domain([1e-19, 1e-13]).range([lyaBottom, lyaTop]);
  const g = svg.append("g");
  const clipId = "lyaclip" + i;
  g.append("clipPath").attr("id", clipId)
    .append("rect").attr("x", p.left).attr("y", lyaTop)
    .attr("width", p.right - p.left).attr("height", lyaBottom - lyaTop);

  const minorX = d3.range(Math.ceil(p.dom[0] * 10), Math.floor(p.dom[1] * 10) + 1).map(v => v / 10);
  const minorY = [];
  lyaExps.forEach(e => { for (let k = 2; k < 10; k++) if (e < -13) minorY.push(k * Math.pow(10, e)); });
  const majY = lyaExps.map(e => Math.pow(10, e));

  const tickCol = "#444";
  g.append("g").attr("transform", `translate(0,${lyaBottom})`)
    .call(d3.axisBottom(x).tickValues(minorX).tickSize(-3).tickFormat(""));
  g.append("g").attr("transform", `translate(0,${lyaTop})`)
    .call(d3.axisTop(x).tickValues(minorX).tickSize(-3).tickFormat(""));
  g.append("g").attr("transform", `translate(0,${lyaBottom})`)
    .call(d3.axisBottom(x).tickValues(lyaTicks).tickSize(-8).tickFormat(""));
  g.append("g").attr("transform", `translate(0,${lyaTop})`)
    .call(d3.axisTop(x).tickValues(lyaTicks).tickSize(-8).tickFormat(""));
  g.append("g").attr("transform", `translate(${p.left},0)`)
    .call(d3.axisLeft(y).tickValues(minorY).tickSize(-4).tickFormat(""));
  g.append("g").attr("transform", `translate(${p.right},0)`)
    .call(d3.axisRight(y).tickValues(minorY).tickSize(-4).tickFormat(""));
  g.append("g").attr("transform", `translate(${p.left},0)`)
    .call(d3.axisLeft(y).tickValues(majY).tickSize(-8).tickFormat(""));
  g.append("g").attr("transform", `translate(${p.right},0)`)
    .call(d3.axisRight(y).tickValues(majY).tickSize(-8).tickFormat(""));
  g.selectAll(".domain").remove();
  g.selectAll(".tick line").attr("stroke", tickCol).attr("stroke-width", 0.8);

  g.append("rect").attr("x", p.left).attr("y", lyaTop)
    .attr("width", p.right - p.left).attr("height", lyaBottom - lyaTop)
    .attr("fill", "none").attr("stroke", "#333").attr("stroke-width", 1);

  g.append("path").datum(p.data)
    .attr("clip-path", `url(#${clipId})`)
    .attr("fill", "none")
    .attr("stroke", panelColors[i])
    .attr("stroke-width", 1.4)
    .attr("d", d3.line().curve(d3.curveMonotoneX)
      .x(d => x(d[0])).y(d => y(Math.pow(10, d[1]))));

  lyaTicks.forEach(v => {
    g.append("text").attr("x", x(v)).attr("y", 201)
      .attr("text-anchor", "middle").attr("font-family", numFont)
      .attr("font-size", 9.5).attr("fill", "#000").text(v);
  });

  g.append("text").attr("x", p.left + 16).attr("y", 51)
    .attr("font-family", nameFont).attr("font-size", 17)
    .attr("fill", panelColors[i]).text(panelNames[i]);

  if (i === 0) {
    lyaExps.forEach(e => {
      const yy = Math.min(lyaBottom, Math.max(lyaTop + 8, y(Math.pow(10, e)) + 4.5));
      powerLabel(g, p.left - 2, yy, "-" + Math.abs(e), 13);
    });
  }
});

// ---- broad-band panels
const xMain = d3.scaleLinear().domain([100, 912]).range([59.3, 944]);
const mainPanels = [
  { top: 221, bottom: 384, spec: spec1A, black: black1A, dash: dash1A, light: light1A, labelY: 254 },
  { top: 397, bottom: 564, spec: spec2A, black: black2A, dash: dash2A, light: light2A, labelY: 432 },
  { top: 576, bottom: 720, spec: spec2B, black: black2B, dash: dash2B, light: light2B, labelY: 607 }
];

function stepPoints(vals, endVal) {
  const pts = vals.map((v, k) => [binEdges[k], v]);
  pts.push([binEdges[binEdges.length - 1], vals[vals.length - 1]]);
  if (endVal !== undefined) pts.push([binEdges[binEdges.length - 1], endVal]);
  return pts;
}

mainPanels.forEach((p, i) => {
  const y = d3.scaleLog().domain([1e-22, 1e-12]).range([p.bottom, p.top]);
  const g = svg.append("g");
  const clipId = "mainclip" + i;
  g.append("clipPath").attr("id", clipId)
    .append("rect").attr("x", 59.3).attr("y", p.top)
    .attr("width", 944 - 59.3).attr("height", p.bottom - p.top);

  const xt = d3.range(100, 901, 50);
  const majY = d3.range(-22, -11, 2).map(e => Math.pow(10, e));
  const minY = d3.range(-21, -11, 2).map(e => Math.pow(10, e));

  g.append("g").attr("transform", `translate(0,${p.bottom})`)
    .call(d3.axisBottom(xMain).tickValues(xt).tickSize(-7).tickFormat(""));
  g.append("g").attr("transform", `translate(0,${p.top})`)
    .call(d3.axisTop(xMain).tickValues(xt).tickSize(-6).tickFormat(""));
  g.append("g").attr("transform", "translate(59.3,0)")
    .call(d3.axisLeft(y).tickValues(majY).tickSize(-19).tickFormat(""));
  g.append("g").attr("transform", "translate(59.3,0)")
    .call(d3.axisLeft(y).tickValues(minY).tickSize(-9).tickFormat(""));
  g.append("g").attr("transform", "translate(944,0)")
    .call(d3.axisRight(y).tickValues(majY.concat(minY)).tickSize(-9).tickFormat(""));
  g.selectAll(".domain").remove();
  g.selectAll(".tick line").attr("stroke", "#6f6f6f").attr("stroke-width", 0.9);

  // the model spectrum is drawn as a histogram, so every line is a vertical stroke
  const line = d3.line().curve(d3.curveStepAfter)
    .x(d => xMain(d[0])).y(d => y(Math.pow(10, d[1])));
  const step = d3.line().curve(d3.curveStepAfter)
    .x(d => xMain(d[0])).y(d => y(Math.pow(10, d[1])));

  const plot = g.append("g").attr("clip-path", `url(#${clipId})`);
  plot.append("path").datum(p.spec)
    .attr("fill", "none").attr("stroke", panelColors[i])
    .attr("stroke-width", 1.2)
    .attr("d", line);
  plot.append("path").datum(stepPoints(p.light))
    .attr("fill", "none").attr("stroke", panelColors[i])
    .attr("stroke-width", 2.2).attr("d", step);
  plot.append("path").datum(stepPoints(p.light))
    .attr("fill", "none").attr("stroke", lightColors[i])
    .attr("stroke-width", 1.1).attr("d", step);
  plot.append("path").datum(stepPoints(p.dash))
    .attr("fill", "none").attr("stroke", panelColors[i])
    .attr("stroke-width", 1.8).attr("stroke-dasharray", "14,9")
    .attr("d", step);
  plot.append("path").datum(stepPoints(p.black, blackEnd[i]))
    .attr("fill", "none").attr("stroke", "#111")
    .attr("stroke-width", 1.3).attr("d", step);

  g.append("rect").attr("x", 59.3).attr("y", p.top)
    .attr("width", 944 - 59.3).attr("height", p.bottom - p.top)
    .attr("fill", "none").attr("stroke", "#7a7a7a").attr("stroke-width", 1.1);

  fluxExps.forEach(e => {
    const yy = Math.max(p.top + 9, y(Math.pow(10, e)) + 3.8);
    powerLabel(g, 57, yy, "-" + Math.abs(e), 11.5);
  });

  g.append("text").attr("x", 82).attr("y", p.labelY)
    .attr("font-family", nameFont).attr("font-size", 17)
    .attr("fill", panelColors[i]).text(panelNames[i]);

  if (i === mainPanels.length - 1) {
    wlTicks.forEach(v => {
      g.append("text").attr("x", xMain(v)).attr("y", 738.5)
        .attr("text-anchor", "middle").attr("font-family", numFont)
        .attr("font-size", 12).attr("fill", "#000").text(v);
    });
  }
});

// axis titles
svg.append("text")
  .attr("x", 501).attr("y", 753)
  .attr("text-anchor", "middle").attr("font-family", numFont)
  .attr("font-size", 11.5).attr("fill", "#000")
  .text("Wavelength (Å)");

const yt = svg.append("text")
  .attr("transform", "translate(22,469) rotate(-90)")
  .attr("text-anchor", "middle").attr("font-family", numFont)
  .attr("font-size", 11.5).attr("fill", "#000");
yt.append("tspan").text("log(F");
yt.append("tspan").attr("dy", 3).attr("font-size", 8).text("λ");
yt.append("tspan").attr("dy", -3).text(") (erg/s/cm²/Å)");
</script>
</body>
</html>
